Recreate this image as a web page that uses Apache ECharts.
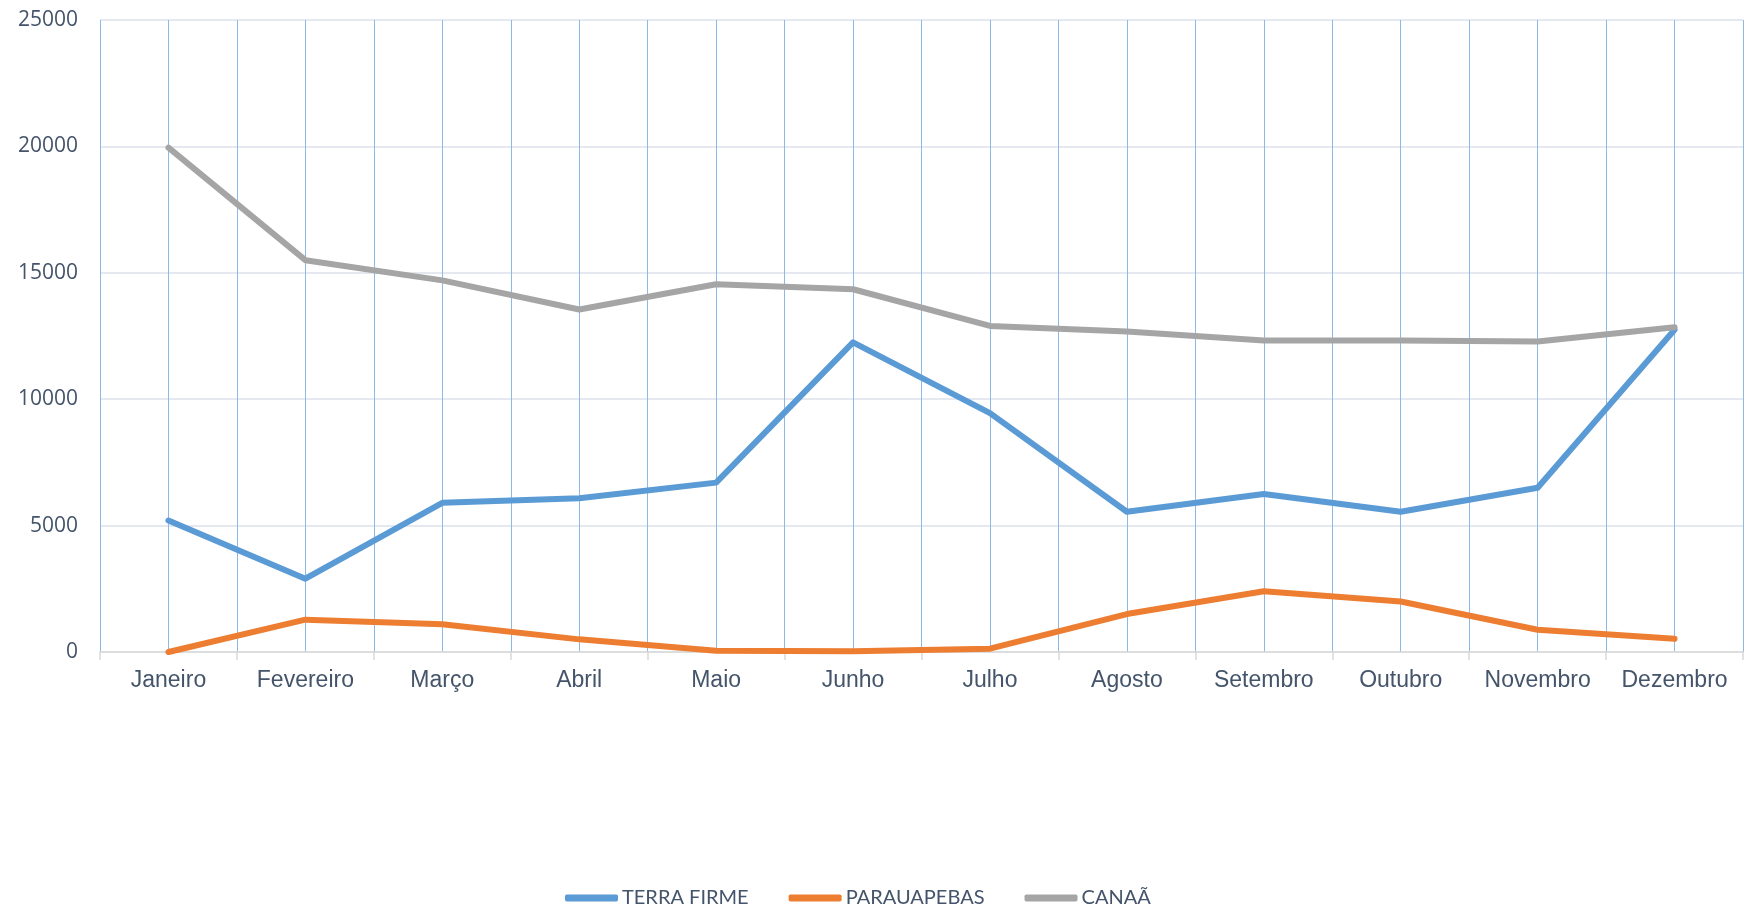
<!DOCTYPE html>
<html>
<head>
<meta charset="utf-8">
<title>Line chart</title>
<script src="https://cdn.jsdelivr.net/npm/echarts@6/dist/echarts.min.js"></script>
<style>
  html, body { margin: 0; padding: 0; background: #fff; }
  #chart { width: 1745px; height: 907px; }
</style>
</head>
<body>
<div id="chart"></div>
<script>
const months = ['Janeiro', 'Fevereiro', 'Março', 'Abril', 'Maio', 'Junho',
  'Julho', 'Agosto', 'Setembro', 'Outubro', 'Novembro', 'Dezembro']

const terraFirme = [5200, 2900, 5900, 6080, 6700, 12250, 9450, 5550, 6250, 5550, 6500, 12750]
const parauapebas = [0, 1280, 1100, 500, 50, 30, 130, 1500, 2400, 2000, 880, 520]
const canaa = [19950, 15500, 14700, 13550, 14550, 14350, 12900, 12680, 12320, 12320, 12280, 12850]

const seriesNames = ['TERRA FIRME', 'PARAUAPEBAS', 'CANAÃ']
const colors = ['#5B9BD5', '#ED7D31', '#A5A5A5']

const chart = echarts.init(document.getElementById('chart'))

const makeLine = (name, data, color) => ({
  name: name,
  type: 'line',
  xAxisIndex: 0,
  data: data,
  symbol: 'none',
  lineStyle: { color: color, width: 6, cap: 'round', join: 'round' },
  itemStyle: { color: color }
})

const option = {
  animation: false,
  textStyle: { color: '#44546A' },
  grid: { left: 100, right: 2, top: 20, bottom: 255, containLabel: false },
  legend: {
    top: 883,
    left: 560,
    icon: 'roundRect',
    itemWidth: 53,
    itemHeight: 7,
    itemGap: 40,
    textStyle: { color: '#44546A', fontSize: 20, fontFamily: 'Lato', padding: [0, 0, 0, -1] },
    data: seriesNames
  },
  xAxis: [
    {
      type: 'category',
      data: months,
      boundaryGap: true,
      axisLine: { lineStyle: { color: '#D9D9D9', width: 1.5 } },
      axisTick: { show: true, length: 8, lineStyle: { color: '#D9D9D9', width: 1.5 } },
      axisLabel: {
        color: '#44546A',
        fontSize: 23,
        fontFamily: 'Liberation Sans',
        margin: 17,
        interval: 0,
        hideOverlap: false
      },
      splitLine: { show: false }
    },
    {
      type: 'value',
      min: 0,
      max: 12,
      interval: 0.5,
      position: 'top',
      axisLine: { show: false },
      axisTick: { show: false },
      axisLabel: { show: false },
      splitLine: { show: true, lineStyle: { color: '#8DB9E6', width: 1 } }
    }
  ],
  yAxis: {
    type: 'value',
    min: 0,
    max: 25000,
    interval: 5000,
    axisLine: { show: false },
    axisTick: { show: false },
    axisLabel: {
      color: '#44546A',
      fontSize: 21,
      fontFamily: 'Open Sans',
      margin: 22,
      formatter: (v) => String(v)
    },
    splitLine: { lineStyle: { color: '#DDE2EA', width: 1.5 } }
  },
  series: [
    makeLine(seriesNames[0], terraFirme, colors[0]),
    makeLine(seriesNames[1], parauapebas, colors[1]),
    makeLine(seriesNames[2], canaa, colors[2])
  ]
}

chart.setOption(option)
</script>
</body>
</html>
